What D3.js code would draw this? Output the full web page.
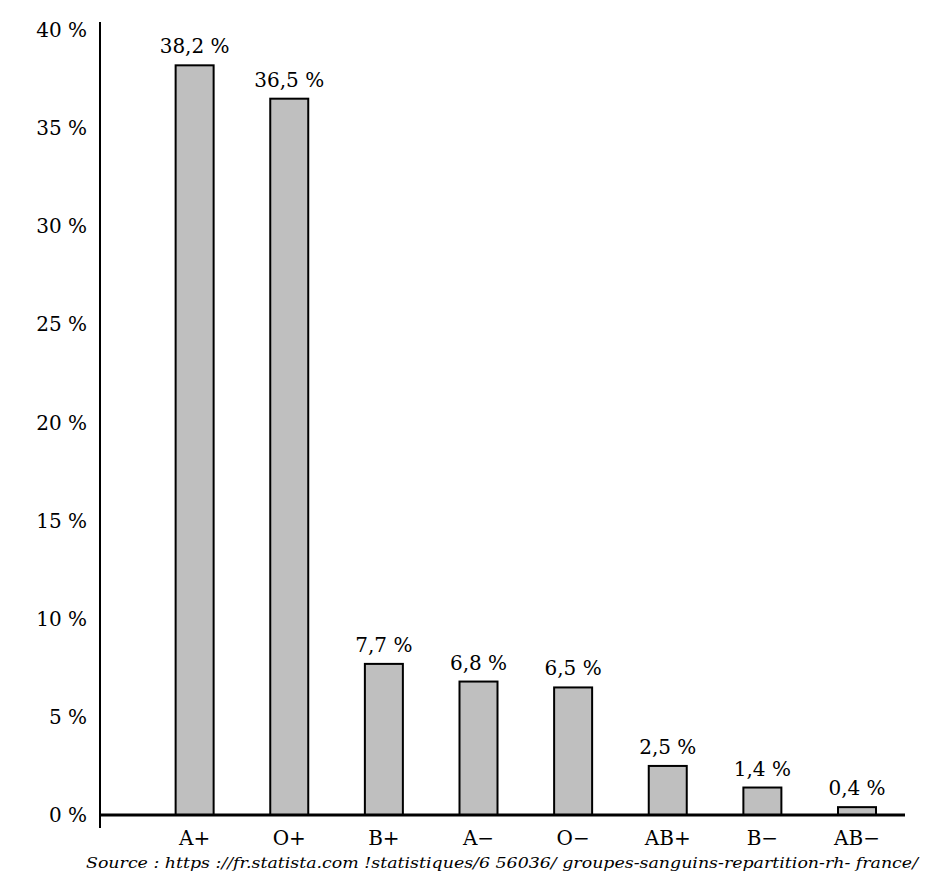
<!DOCTYPE html>
<html><head><meta charset="utf-8">
<script src="https://cdn.jsdelivr.net/npm/d3@7"></script>
<style>body{margin:0;background:#fff}</style></head>
<body><svg id="c" width="931" height="884"></svg>
<script>
const categories = ["A+","O+","B+","A\u2212","O\u2212","AB+","B\u2212","AB\u2212"];
const values = [38.2,36.5,7.7,6.8,6.5,2.5,1.4,0.4];
const labels = ["38,2 %","36,5 %","7,7 %","6,8 %","6,5 %","2,5 %","1,4 %","0,4 %"];
const yTicks = [0,5,10,15,20,25,30,35,40];
const source = "Source : https ://fr.statista.com !statistiques/6 56036/ groupes-sanguins-repartition-rh- france/";

const svg = d3.select("#c");
const font = "DejaVu Serif";
const x = d3.scalePoint().domain(["", ...categories]).range([100, 857]);
const y = d3.scaleLinear().domain([0,40]).range([815, 30]);
const bw = 38;

svg.selectAll("rect.bar").data(values).join("rect")
  .attr("x",(d,i)=>x(categories[i])-bw/2).attr("y",d=>y(d))
  .attr("width",bw).attr("height",d=>y(0)-y(d))
  .attr("fill","#bfbfbf").attr("stroke","#000").attr("stroke-width",2);

svg.selectAll("text.lab").data(values).join("text")
  .attr("x",(d,i)=>x(categories[i])).attr("y",d=>y(d)-12)
  .attr("text-anchor","middle").attr("font-family",font).attr("font-size",20)
  .text((d,i)=>labels[i]);

// axes
svg.append("line").attr("x1",100).attr("x2",100).attr("y1",y(40)-8).attr("y2",828).attr("stroke","#000").attr("stroke-width",2);
svg.append("line").attr("x1",100).attr("x2",905).attr("y1",y(0)).attr("y2",y(0)).attr("stroke","#000").attr("stroke-width",3);

svg.selectAll("text.yt").data(yTicks).join("text")
  .attr("x",87).attr("y",d=>y(d)+7).attr("text-anchor","end")
  .attr("font-family",font).attr("font-size",20).text(d=>d+" %");

svg.selectAll("text.xt").data(categories).join("text")
  .attr("x",d=>x(d)).attr("y",845).attr("text-anchor","middle")
  .attr("font-family",font).attr("font-size",20).text(d=>d);

svg.append("text").attr("x",918).attr("y",868).attr("text-anchor","end")
  .attr("font-family",font).attr("font-style","italic").attr("font-size",15.5)
  .attr("textLength",832).attr("lengthAdjust","spacingAndGlyphs").text(source);
</script></body></html>
